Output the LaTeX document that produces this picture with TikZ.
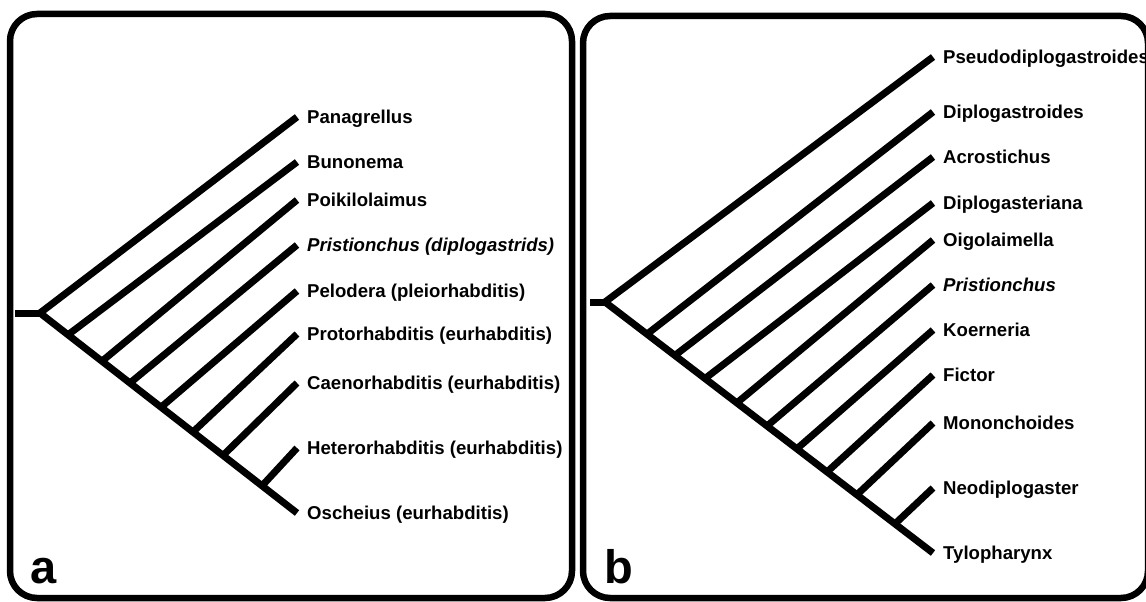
\documentclass[tikz,border=0pt]{standalone}
\usepackage{fontspec}
\setmainfont{Liberation Sans}
\usetikzlibrary{calc}
\begin{document}
\begin{tikzpicture}[x=1pt,y=-1pt,
  br/.style={line width=7pt, line cap=butt, line join=miter},
  panel/.style={line width=6.5pt, rounded corners=27pt},
  taxon/.style={anchor=base west, font=\bfseries\fontsize{18.6}{20}\selectfont, inner sep=0pt, xshift=10pt, yshift=-6.5pt},
  plabel/.style={anchor=base west, font=\bfseries\fontsize{47}{50}\selectfont, inner sep=0pt}]
\useasboundingbox (0,0) rectangle (1146,602);
\clip (0,0) rectangle (1146,602);
\fill[white] (0,0) rectangle (1146,602);
% panels
\draw[panel] (10,14) rectangle (572,598);
\draw[panel] (583,16) rectangle (1148,598);
\node[plabel] (pa) at (30,583) {a};
\node[plabel] (pb) at (604,583) {b};
% ---------------- tree a
\coordinate (sa) at (15,313);
\coordinate (ra) at (40,313);
\coordinate (a1) at (297,117);
\coordinate (a2) at (297,162);
\coordinate (a3) at (297,200);
\coordinate (a4) at (297,245);
\coordinate (a5) at (297,291);
\coordinate (a6) at (297,334);
\coordinate (a7) at (297,383);
\coordinate (a8) at (297,448);
\coordinate (a9) at (297,513);
\draw[br] (sa) -- (ra);
\draw[br] (a1) -- (ra) -- (a9);
\foreach \t/\k in {0.109/2,0.241/3,0.350/4,0.471/5,0.595/6,0.712/7,0.864/8}{
  \coordinate (ja\k) at ($(ra)!\t!(a9)$);
  \draw[br] (ja\k) -- (a\k);
}
\node[taxon] (la1) at (a1) {Panagrellus};
\node[taxon] (la2) at (a2) {Bunonema};
\node[taxon] (la3) at (a3) {Poikilolaimus};
\node[taxon] (la4) at (a4) {\itshape Pristionchus (diplogastrids)};
\node[taxon] (la5) at (a5) {Pelodera (pleiorhabditis)};
\node[taxon] (la6) at (a6) {Protorhabditis (eurhabditis)};
\node[taxon] (la7) at (a7) {Caenorhabditis (eurhabditis)};
\node[taxon] (la8) at (a8) {Heterorhabditis (eurhabditis)};
\node[taxon] (la9) at (a9) {Oscheius (eurhabditis)};
% ---------------- tree b
\coordinate (sb) at (590,302);
\coordinate (rb) at (605,302);
\coordinate (b1) at (933,57);
\coordinate (b2) at (933,112);
\coordinate (b3) at (933,157);
\coordinate (b4) at (933,203);
\coordinate (b5) at (933,240);
\coordinate (b6) at (933,285);
\coordinate (b7) at (933,330);
\coordinate (b8) at (933,375);
\coordinate (b9) at (933,423);
\coordinate (b10) at (933,488);
\coordinate (b11) at (933,553);
\draw[br] (sb) -- (rb);
\draw[br] (b1) -- (rb) -- (b11);
\foreach \t/\k in {0.128/2,0.213/3,0.305/4,0.402/5,0.494/6,0.585/7,0.677/8,0.768/9,0.884/10}{
  \coordinate (jb\k) at ($(rb)!\t!(b11)$);
  \draw[br] (jb\k) -- (b\k);
}
\node[taxon] (lb1) at (b1) {Pseudodiplogastroides};
\node[taxon] (lb2) at (b2) {Diplogastroides};
\node[taxon] (lb3) at (b3) {Acrostichus};
\node[taxon] (lb4) at (b4) {Diplogasteriana};
\node[taxon] (lb5) at (b5) {Oigolaimella};
\node[taxon] (lb6) at (b6) {\itshape Pristionchus};
\node[taxon] (lb7) at (b7) {Koerneria};
\node[taxon] (lb8) at (b8) {Fictor};
\node[taxon] (lb9) at (b9) {Mononchoides};
\node[taxon] (lb10) at (b10) {Neodiplogaster};
\node[taxon] (lb11) at (b11) {Tylopharynx};
\end{tikzpicture}
\end{document}
